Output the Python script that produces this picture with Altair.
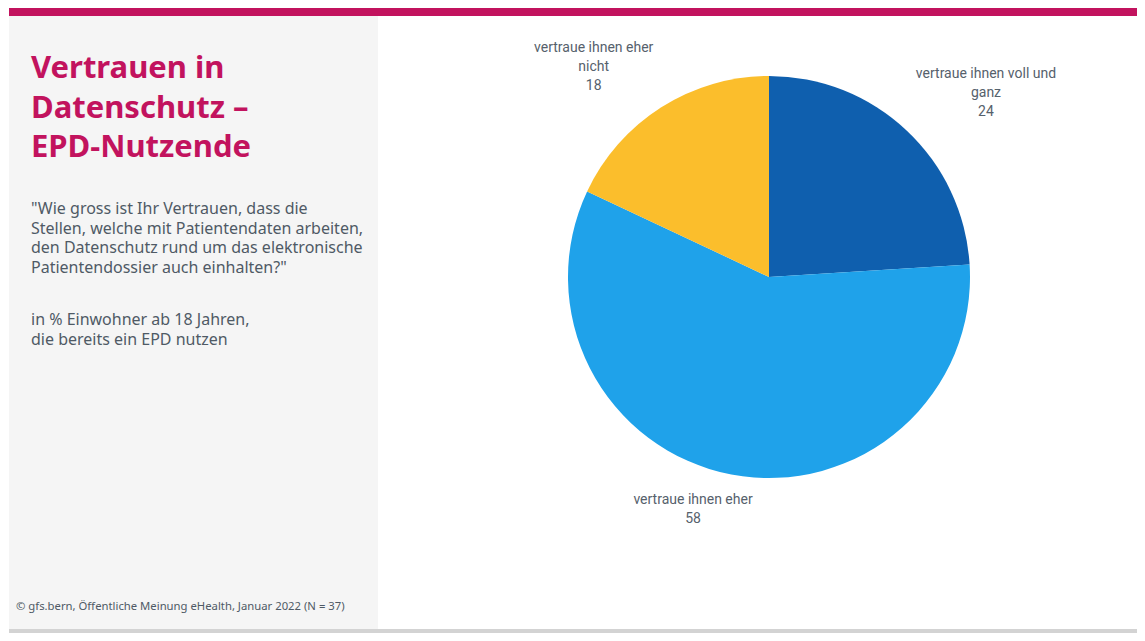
import altair as alt
import pandas as pd

# ---- data ----
categories = ["vertraue ihnen voll und ganz", "vertraue ihnen eher", "vertraue ihnen eher nicht"]
values = [24, 58, 18]
label_lines = ["vertraue ihnen voll und\nganz\n24", "vertraue ihnen eher\n58", "vertraue ihnen eher\nnicht\n18"]
colors = ["#0F5FAE", "#1FA2EA", "#FBBE2C"]

title_lines = ["Vertrauen in", "Datenschutz –", "EPD-Nutzende"]
question_lines = [
    "\"Wie gross ist Ihr Vertrauen, dass die",
    "Stellen, welche mit Patientendaten arbeiten,",
    "den Datenschutz rund um das elektronische",
    "Patientendossier auch einhalten?\"",
]
base_lines = ["in % Einwohner ab 18 Jahren,", "die bereits ein EPD nutzen"]
source_text = "© gfs.bern, Öffentliche Meinung eHealth, Januar 2022 (N = 37)"

df = pd.DataFrame({
    "category": categories,
    "value": values,
    "label": label_lines,
    "idx": list(range(len(categories))),
})

W, H = 1129, 625
CX, CY, R = 761, 269, 201
MAGENTA = "#C2135E"
TEXT = "#4F5A65"
LABEL_FONT = "Liberation Sans Narrow, Roboto, sans-serif"
MAIN_FONT = "Noto Sans, sans-serif"

one = alt.Data(values=[{}])

top_bar = alt.Chart(one).mark_rect(color=MAGENTA).encode(
    x=alt.value(1), x2=alt.value(W), y=alt.value(0), y2=alt.value(8)
)
panel = alt.Chart(one).mark_rect(color="#F5F5F5").encode(
    x=alt.value(1), x2=alt.value(370), y=alt.value(8), y2=alt.value(H - 4)
)
bottom_bar = alt.Chart(one).mark_rect(color="#D3D3D3").encode(
    x=alt.value(1), x2=alt.value(W), y=alt.value(H - 4), y2=alt.value(H)
)

title = alt.Chart(one).mark_text(
    text=title_lines, align="left", baseline="alphabetic", font=MAIN_FONT,
    fontSize=31, fontWeight="bold", color=MAGENTA, lineHeight=39.5
).encode(x=alt.value(23), y=alt.value(70))

question = alt.Chart(one).mark_text(
    text=question_lines, align="left", baseline="alphabetic", font=MAIN_FONT,
    fontSize=16, color=TEXT, lineHeight=19.7
).encode(x=alt.value(23), y=alt.value(206))

base = alt.Chart(one).mark_text(
    text=base_lines, align="left", baseline="alphabetic", font=MAIN_FONT,
    fontSize=16, color=TEXT, lineHeight=19.7
).encode(x=alt.value(23), y=alt.value(317))

source = alt.Chart(one).mark_text(
    text=source_text, align="left", baseline="alphabetic", font=MAIN_FONT,
    fontSize=11.3, color=TEXT
).encode(x=alt.value(8), y=alt.value(602))

pie = alt.Chart(df).mark_arc(outerRadius=R).encode(
    theta=alt.Theta("value:Q", stack=True),
    color=alt.Color("category:N", scale=alt.Scale(domain=categories, range=colors), legend=None),
    order=alt.Order("idx:Q"),
    x=alt.value(CX), y=alt.value(CY),
)

label_base = alt.Chart(df).transform_window(
    cum="sum(value)", sort=[alt.SortField("idx")]
).transform_joinaggregate(
    total="sum(value)"
).transform_calculate(
    ang="(datum.cum - datum.value / 2) / datum.total * 2 * PI"
)

label_layout = [(260, 39, -13.5), (240, -31, -12.5), (260, -36, -9)]
label_layers = []
for i, (rr, ddx, ddy) in enumerate(label_layout):
    lyr = label_base.transform_calculate(
        px=f"{CX} + {rr} * sin(datum.ang)",
        py=f"{CY} - {rr} * cos(datum.ang)",
    ).transform_filter(
        alt.datum.idx == i
    ).mark_text(
        align="center", baseline="middle", lineBreak="\n", font=LABEL_FONT,
        fontSize=14, color="#56616C", lineHeight=19, dx=ddx, dy=ddy
    ).encode(
        x=alt.X("px:Q", scale=None),
        y=alt.Y("py:Q", scale=None),
        text="label:N",
    )
    label_layers.append(lyr)

chart = alt.layer(
    panel, top_bar, bottom_bar, title, question, base, source, pie, *label_layers
).properties(
    width=W, height=H, padding=0, background="white",
    autosize=alt.AutoSizeParams(type="fit", contains="padding"),
).configure_view(stroke=None)

chart.save("out.html", embed_options={"renderer": "svg", "actions": False})
